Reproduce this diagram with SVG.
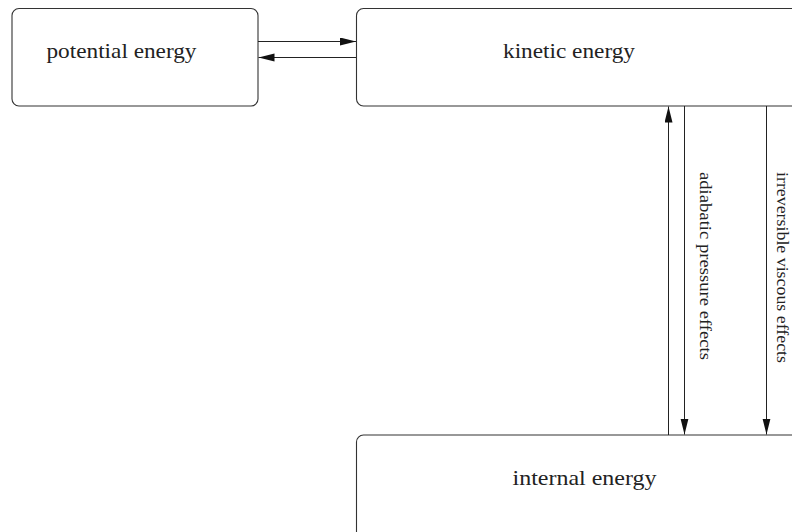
<svg xmlns="http://www.w3.org/2000/svg" width="792" height="532" viewBox="0 0 792 532">
<style>
.box{fill:#fff;stroke:#333;stroke-width:1.1}
.lbl{font-family:"Liberation Serif","Times New Roman",serif;font-size:21.5px;fill:#222}
.vlbl{font-family:"Liberation Serif","Times New Roman",serif;font-size:17px;fill:#222}
.edge{stroke:#222;stroke-width:1;fill:none}
</style>
<defs>
<marker id="ah" markerUnits="userSpaceOnUse" markerWidth="17" markerHeight="9" refX="16" refY="4" orient="auto">
<path d="M0,0 L16,4 L0,8 z" fill="#111"/>
</marker>
</defs>
<rect width="792" height="532" fill="#fff"/>
<g id="potential">
<rect class="box" x="12" y="8.5" width="246" height="97.5" rx="7"/>
<text class="lbl" x="46.5" y="57.5" textLength="150" lengthAdjust="spacingAndGlyphs">potential energy</text>
</g>
<g id="kinetic">
<rect class="box" x="356.5" y="8.5" width="500" height="97.5" rx="7"/>
<text class="lbl" x="503" y="57.5" textLength="132" lengthAdjust="spacingAndGlyphs">kinetic energy</text>
</g>
<g id="internal">
<rect class="box" x="356.5" y="435" width="500" height="110" rx="7"/>
<text class="lbl" x="512.5" y="485" textLength="144" lengthAdjust="spacingAndGlyphs">internal energy</text>
</g>
<g id="connectors">
<line class="edge" x1="258" y1="41.5" x2="356" y2="41.5" marker-end="url(#ah)"/>
<line class="edge" x1="356" y1="57.5" x2="258.5" y2="57.5" marker-end="url(#ah)"/>
<line class="edge" x1="668.5" y1="435" x2="668.5" y2="106.5" marker-end="url(#ah)"/>
<line class="edge" x1="684.5" y1="106" x2="684.5" y2="434.5" marker-end="url(#ah)"/>
<line class="edge" x1="766.5" y1="106" x2="766.5" y2="434.5" marker-end="url(#ah)"/>
<text class="vlbl" transform="translate(700,172) rotate(90)" textLength="188" lengthAdjust="spacingAndGlyphs">adiabatic pressure effects</text>
<text class="vlbl" transform="translate(777,172) rotate(90)" textLength="191" lengthAdjust="spacingAndGlyphs">irreversible viscous effects</text>
</g>
</svg>
